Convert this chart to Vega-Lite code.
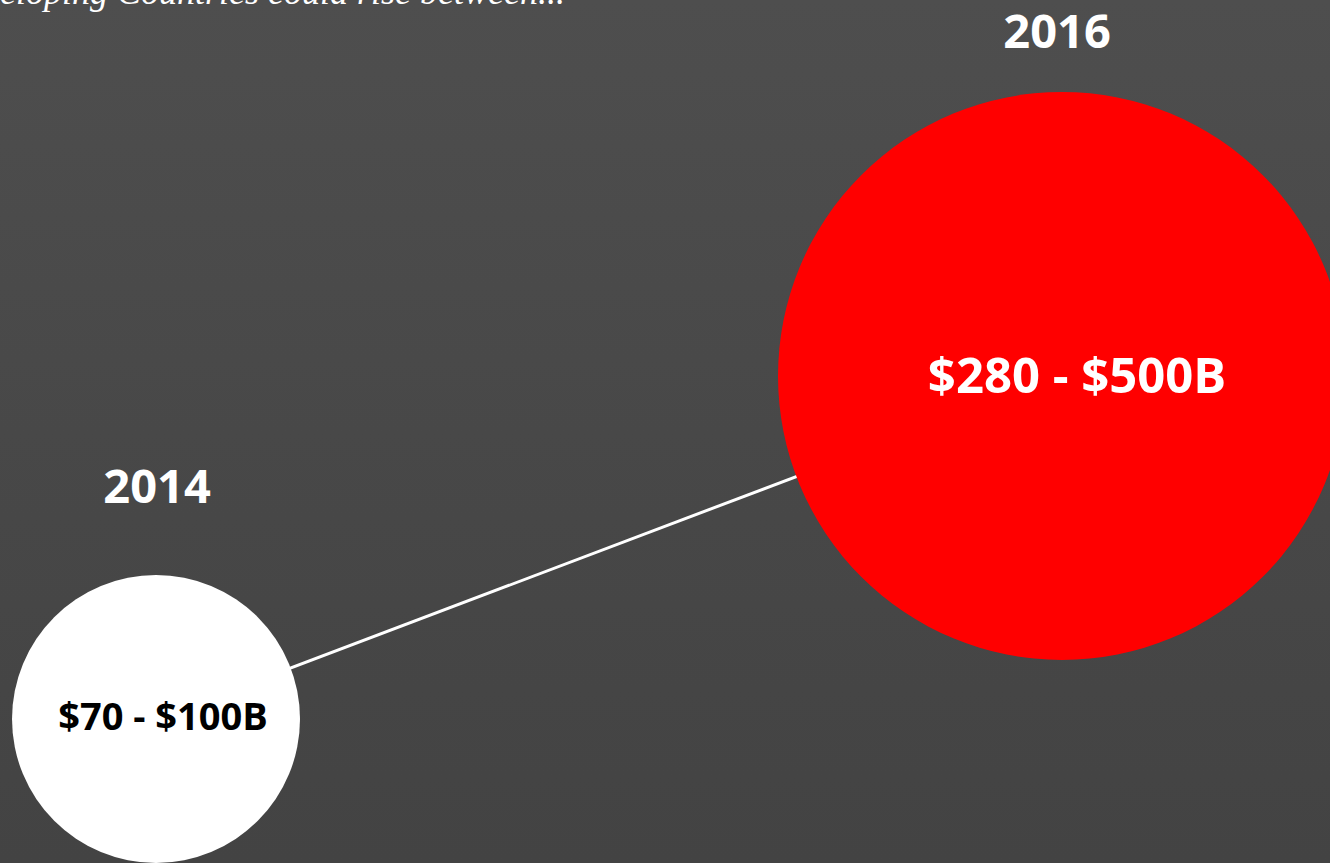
{
  "$schema": "https://vega.github.io/schema/vega-lite/v6.json",
  "width": 1330,
  "height": 863,
  "autosize": {"type": "none"},
  "padding": 0,
  "background": "#484848",
  "config": {"view": {"stroke": null}},
  "datasets": {
    "market": [
      {"year": 2014, "low": 70, "high": 100, "mid": 85, "label": "$70 - $100B"},
      {"year": 2016, "low": 280, "high": 500, "mid": 390, "label": "$280 - $500B"}
    ],
    "note": [
      {"year": 2013.6556, "mid": 720.8, "text": "eloping Countries could rise between..."}
    ],
    "backdrop": [
      {"x0": 2013.6556, "x1": 2016.5916, "y0": -43.04, "y1": 724.3}
    ]
  },
  "data": {"name": "market"},
  "encoding": {
    "x": {"field": "year", "type": "quantitative", "scale": {"domain": [2013.6556, 2016.5916], "nice": false, "zero": false}, "axis": null},
    "y": {"field": "mid", "type": "quantitative", "scale": {"domain": [-43.04, 724.3], "nice": false, "zero": false}, "axis": null}
  },
  "layer": [
    {
      "data": {"name": "backdrop"},
      "mark": {"type": "rect", "color": {"gradient": "linear", "x1": 0, "y1": 0, "x2": 0, "y2": 1, "stops": [{"offset": 0, "color": "#4e4e4e"}, {"offset": 0.5, "color": "#484848"}, {"offset": 1, "color": "#434343"}]}},
      "encoding": {
        "x": {"field": "x0", "type": "quantitative"},
        "x2": {"field": "x1"},
        "y": {"field": "y0", "type": "quantitative"},
        "y2": {"field": "y1"}
      }
    },
    {
      "mark": {"type": "line", "color": "white", "strokeWidth": 3}
    },
    {
      "mark": {"type": "circle", "opacity": 1},
      "encoding": {
        "size": {"field": "low", "type": "quantitative", "scale": {"domain": [70, 280], "range": [82944, 322624], "zero": false}, "legend": null},
        "color": {"field": "year", "type": "nominal", "scale": {"domain": [2014, 2016], "range": ["#ffffff", "#ff0000"]}, "legend": null}
      }
    },
    {
      "transform": [{"filter": "datum.year == 2014"}],
      "mark": {"type": "text", "font": "Open Sans", "fontWeight": "bold", "fontSize": 47, "color": "white", "baseline": "alphabetic", "dy": -216, "dx": 1},
      "encoding": {"text": {"field": "year", "type": "nominal"}}
    },
    {
      "transform": [{"filter": "datum.year == 2016"}],
      "mark": {"type": "text", "font": "Open Sans", "fontWeight": "bold", "fontSize": 47, "color": "white", "baseline": "alphabetic", "dy": -328, "dx": -5},
      "encoding": {"text": {"field": "year", "type": "nominal"}}
    },
    {
      "transform": [{"filter": "datum.year == 2014"}],
      "mark": {"type": "text", "font": "Open Sans", "fontWeight": "bold", "fontSize": 38, "color": "black", "baseline": "alphabetic", "dy": 11, "dx": 7},
      "encoding": {"text": {"field": "label", "type": "nominal"}}
    },
    {
      "transform": [{"filter": "datum.year == 2016"}],
      "mark": {"type": "text", "font": "Open Sans", "fontWeight": "bold", "fontSize": 49, "color": "white", "baseline": "alphabetic", "dy": 17, "dx": 15},
      "encoding": {"text": {"field": "label", "type": "nominal"}}
    },
    {
      "data": {"name": "note"},
      "mark": {"type": "text", "font": "Liberation Serif", "fontStyle": "italic", "fontSize": 36, "color": "white", "align": "left", "baseline": "alphabetic"},
      "encoding": {"text": {"field": "text", "type": "nominal"}}
    }
  ]
}
